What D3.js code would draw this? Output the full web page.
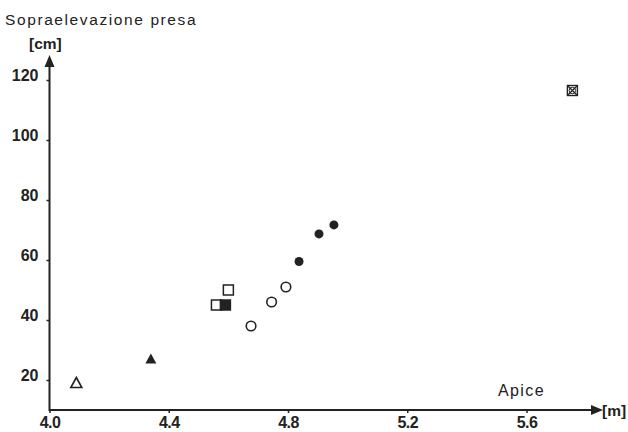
<!DOCTYPE html>
<html>
<head>
<meta charset="utf-8">
<script src="https://cdn.jsdelivr.net/npm/d3@7"></script>
<style>
  body { margin: 0; background: #fff; }
  text { font-family: "Liberation Sans", Arial, sans-serif; fill: #222; }
</style>
</head>
<body>
<div id="chart"></div>
<script>
// values: [x in m, y in cm]
var openTriangles = [[4.09, 19]]
var filledTriangles = [[4.34, 27]]
var openSquares = [[4.56, 45], [4.60, 50]]
var filledSquares = [[4.59, 45]]
var openCircles = [[4.676, 38], [4.745, 46], [4.793, 51]]
var filledCircles = [[4.837, 59.5], [4.904, 68.7], [4.954, 71.7]]
var crossedSquares = [[5.754, 116.5]]

var xTicks = [4.0, 4.4, 4.8, 5.2, 5.6]
var yTicks = [20, 40, 60, 80, 100, 120]

var W = 628, H = 432
var ink = "#222"

var svg = d3.select("#chart").append("svg").attr("width", W).attr("height", H)

var x = d3.scaleLinear().domain([4.0, 5.6]).range([49.5, 526.5])
var y = d3.scaleLinear().domain([20, 120]).range([380, 80])

var originX = x(4.0), originY = 410

// axis lines with arrows
svg.append("line").attr("x1", originX).attr("x2", 596).attr("y1", originY).attr("y2", originY)
    .attr("stroke", ink).attr("stroke-width", 2)
svg.append("path").attr("d", `M603,${originY} L591,${originY - 5} L591,${originY + 5} Z`).attr("fill", ink)

svg.append("line").attr("x1", originX).attr("x2", originX).attr("y1", originY + 1).attr("y2", 64)
    .attr("stroke", ink).attr("stroke-width", 2)
svg.append("path").attr("d", `M${originX},55 L${originX - 5},67 L${originX + 5},67 Z`).attr("fill", ink)

var xAxis = svg.append("g").attr("transform", `translate(0,${originY})`)
    .call(d3.axisBottom(x).tickValues(xTicks).tickSize(3).tickPadding(3.5).tickFormat(d3.format(".1f")))
xAxis.select(".domain").remove()
xAxis.selectAll("line").attr("stroke", ink).attr("stroke-width", 1.5)
xAxis.selectAll("text").attr("font-size", 16).attr("font-weight", "bold").attr("fill", ink)
    .attr("letter-spacing", -0.5)
    .attr("font-family", "Liberation Sans, Arial, sans-serif")

var yAxis = svg.append("g").attr("transform", `translate(${originX},0)`)
    .call(d3.axisLeft(y).tickValues(yTicks).tickSize(3).tickPadding(8))
yAxis.select(".domain").remove()
yAxis.selectAll("line").attr("stroke", ink).attr("stroke-width", 1.5)
yAxis.selectAll("text").attr("font-size", 16).attr("font-weight", "bold").attr("fill", ink)
    .attr("dy", "0.05em")
    .attr("font-family", "Liberation Sans, Arial, sans-serif")

// labels
svg.append("text").attr("x", 5).attr("y", 25).attr("font-size", 15.5).attr("letter-spacing", 1.6)
    .text("Sopraelevazione presa")
svg.append("text").attr("x", 29).attr("y", 49).attr("font-size", 15.5).attr("font-weight", "bold").text("[cm]")
svg.append("text").attr("x", 602).attr("y", originY + 6).attr("font-size", 15.5).attr("font-weight", "bold").text("[m]")
svg.append("text").attr("x", 498).attr("y", 396).attr("font-size", 16).attr("letter-spacing", 1.4).text("Apice")

// markers
function tri(d) {
    var cx = x(d[0]), cy = y(d[1])
    return `M${cx},${cy - 5.5} L${cx + 5.5},${cy + 4.5} L${cx - 5.5},${cy + 4.5} Z`
}

svg.selectAll(".otri").data(openTriangles).enter().append("path")
    .attr("d", tri).attr("fill", "none").attr("stroke", ink).attr("stroke-width", 1.6)
svg.selectAll(".ftri").data(filledTriangles).enter().append("path")
    .attr("d", tri).attr("fill", ink)

var s = 10
svg.selectAll(".osq").data(openSquares).enter().append("rect")
    .attr("x", d => x(d[0]) - s / 2).attr("y", d => y(d[1]) - s / 2)
    .attr("width", s).attr("height", s).attr("fill", "none").attr("stroke", ink).attr("stroke-width", 1.5)
svg.selectAll(".fsq").data(filledSquares).enter().append("rect")
    .attr("x", d => x(d[0]) - s / 2).attr("y", d => y(d[1]) - s / 2)
    .attr("width", s).attr("height", s).attr("fill", ink).attr("stroke", ink).attr("stroke-width", 1.5)

svg.selectAll(".ocirc").data(openCircles).enter().append("circle")
    .attr("cx", d => x(d[0])).attr("cy", d => y(d[1])).attr("r", 4.8)
    .attr("fill", "none").attr("stroke", ink).attr("stroke-width", 1.6)
svg.selectAll(".fcirc").data(filledCircles).enter().append("circle")
    .attr("cx", d => x(d[0])).attr("cy", d => y(d[1])).attr("r", 4.5).attr("fill", ink)

var cross = svg.selectAll(".xsq").data(crossedSquares).enter().append("g")
    .attr("transform", d => `translate(${x(d[0])},${y(d[1])})`)
cross.append("rect").attr("x", -5).attr("y", -5).attr("width", 10).attr("height", 10)
    .attr("fill", "none").attr("stroke", ink).attr("stroke-width", 1.4)
cross.append("path").attr("d", "M-5,-5 L5,5 M5,-5 L-5,5").attr("stroke", ink).attr("stroke-width", 1.2)
cross.append("circle").attr("r", 3.2).attr("fill", "none").attr("stroke", ink).attr("stroke-width", 1)
</script>
</body>
</html>
